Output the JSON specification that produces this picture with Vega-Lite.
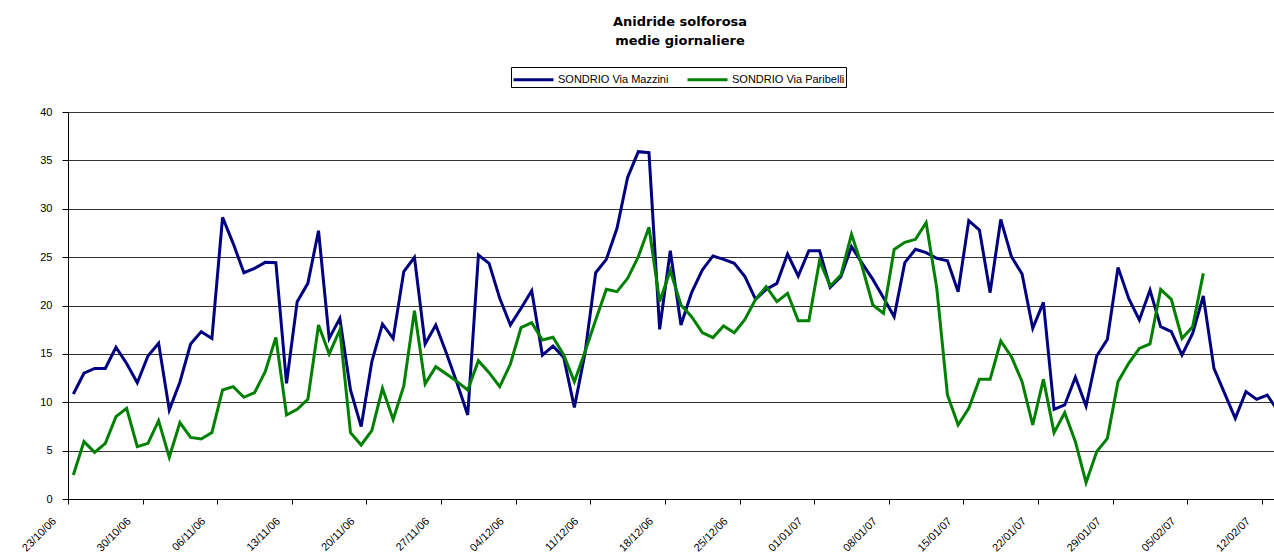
{
  "$schema": "https://vega.github.io/schema/vega-lite/v6.json",
  "width": 1206,
  "height": 387,
  "autosize": {"type": "none"},
  "padding": {"left": 68, "top": 112, "right": 0, "bottom": 58},
  "background": "white",
  "config": {"view": {"stroke": null}, "font": "Liberation Sans"},
  "title": {
    "text": ["Anidride solforosa", "medie giornaliere"],
    "font": "DejaVu Sans",
    "fontSize": 13,
    "fontWeight": "bold",
    "color": "black",
    "anchor": "middle",
    "dx": 9,
    "offset": 19,
    "lineHeight": 19
  },
  "data": {
    "values": [
      {"data": "2006-10-23", "SONDRIO Via Mazzini": 10.85, "SONDRIO Via Paribelli": 2.48},
      {"data": "2006-10-24", "SONDRIO Via Mazzini": 13.0, "SONDRIO Via Paribelli": 5.93},
      {"data": "2006-10-25", "SONDRIO Via Mazzini": 13.5, "SONDRIO Via Paribelli": 4.82},
      {"data": "2006-10-26", "SONDRIO Via Mazzini": 13.5, "SONDRIO Via Paribelli": 5.75},
      {"data": "2006-10-27", "SONDRIO Via Mazzini": 15.68, "SONDRIO Via Paribelli": 8.51},
      {"data": "2006-10-28", "SONDRIO Via Mazzini": 14.0, "SONDRIO Via Paribelli": 9.37},
      {"data": "2006-10-29", "SONDRIO Via Mazzini": 12.02, "SONDRIO Via Paribelli": 5.41},
      {"data": "2006-10-30", "SONDRIO Via Mazzini": 14.78, "SONDRIO Via Paribelli": 5.75},
      {"data": "2006-10-31", "SONDRIO Via Mazzini": 16.09, "SONDRIO Via Paribelli": 8.1},
      {"data": "2006-11-01", "SONDRIO Via Mazzini": 9.2, "SONDRIO Via Paribelli": 4.31},
      {"data": "2006-11-02", "SONDRIO Via Mazzini": 12.1, "SONDRIO Via Paribelli": 7.89},
      {"data": "2006-11-03", "SONDRIO Via Mazzini": 16.02, "SONDRIO Via Paribelli": 6.37},
      {"data": "2006-11-04", "SONDRIO Via Mazzini": 17.3, "SONDRIO Via Paribelli": 6.2},
      {"data": "2006-11-05", "SONDRIO Via Mazzini": 16.6, "SONDRIO Via Paribelli": 6.86},
      {"data": "2006-11-06", "SONDRIO Via Mazzini": 29.11, "SONDRIO Via Paribelli": 11.27},
      {"data": "2006-11-07", "SONDRIO Via Mazzini": 26.4, "SONDRIO Via Paribelli": 11.61},
      {"data": "2006-11-08", "SONDRIO Via Mazzini": 23.39, "SONDRIO Via Paribelli": 10.51},
      {"data": "2006-11-09", "SONDRIO Via Mazzini": 23.84, "SONDRIO Via Paribelli": 10.99},
      {"data": "2006-11-10", "SONDRIO Via Mazzini": 24.46, "SONDRIO Via Paribelli": 13.16},
      {"data": "2006-11-11", "SONDRIO Via Mazzini": 24.43, "SONDRIO Via Paribelli": 16.71},
      {"data": "2006-11-12", "SONDRIO Via Mazzini": 11.96, "SONDRIO Via Paribelli": 8.68},
      {"data": "2006-11-13", "SONDRIO Via Mazzini": 20.4, "SONDRIO Via Paribelli": 9.27},
      {"data": "2006-11-14", "SONDRIO Via Mazzini": 22.29, "SONDRIO Via Paribelli": 10.3},
      {"data": "2006-11-15", "SONDRIO Via Mazzini": 27.73, "SONDRIO Via Paribelli": 17.98},
      {"data": "2006-11-16", "SONDRIO Via Mazzini": 16.6, "SONDRIO Via Paribelli": 14.99},
      {"data": "2006-11-17", "SONDRIO Via Mazzini": 18.67, "SONDRIO Via Paribelli": 17.47},
      {"data": "2006-11-18", "SONDRIO Via Mazzini": 11.27, "SONDRIO Via Paribelli": 6.86},
      {"data": "2006-11-19", "SONDRIO Via Mazzini": 7.48, "SONDRIO Via Paribelli": 5.58},
      {"data": "2006-11-20", "SONDRIO Via Mazzini": 14.19, "SONDRIO Via Paribelli": 7.06},
      {"data": "2006-11-21", "SONDRIO Via Mazzini": 18.09, "SONDRIO Via Paribelli": 11.44},
      {"data": "2006-11-22", "SONDRIO Via Mazzini": 16.6, "SONDRIO Via Paribelli": 8.23},
      {"data": "2006-11-23", "SONDRIO Via Mazzini": 23.5, "SONDRIO Via Paribelli": 11.68},
      {"data": "2006-11-24", "SONDRIO Via Mazzini": 24.98, "SONDRIO Via Paribelli": 19.47},
      {"data": "2006-11-25", "SONDRIO Via Mazzini": 16.02, "SONDRIO Via Paribelli": 11.89},
      {"data": "2006-11-26", "SONDRIO Via Mazzini": 17.98, "SONDRIO Via Paribelli": 13.68},
      {"data": "2006-11-27", "SONDRIO Via Mazzini": 15.06, "SONDRIO Via Paribelli": 12.92},
      {"data": "2006-11-28", "SONDRIO Via Mazzini": 11.96, "SONDRIO Via Paribelli": 12.13},
      {"data": "2006-11-29", "SONDRIO Via Mazzini": 8.68, "SONDRIO Via Paribelli": 11.27},
      {"data": "2006-11-30", "SONDRIO Via Mazzini": 25.22, "SONDRIO Via Paribelli": 14.3},
      {"data": "2006-12-01", "SONDRIO Via Mazzini": 24.36, "SONDRIO Via Paribelli": 13.06},
      {"data": "2006-12-02", "SONDRIO Via Mazzini": 20.74, "SONDRIO Via Paribelli": 11.61},
      {"data": "2006-12-03", "SONDRIO Via Mazzini": 17.98, "SONDRIO Via Paribelli": 13.95},
      {"data": "2006-12-04", "SONDRIO Via Mazzini": 19.71, "SONDRIO Via Paribelli": 17.71},
      {"data": "2006-12-05", "SONDRIO Via Mazzini": 21.53, "SONDRIO Via Paribelli": 18.23},
      {"data": "2006-12-06", "SONDRIO Via Mazzini": 14.88, "SONDRIO Via Paribelli": 16.43},
      {"data": "2006-12-07", "SONDRIO Via Mazzini": 15.81, "SONDRIO Via Paribelli": 16.71},
      {"data": "2006-12-08", "SONDRIO Via Mazzini": 14.64, "SONDRIO Via Paribelli": 14.88},
      {"data": "2006-12-09", "SONDRIO Via Mazzini": 9.47, "SONDRIO Via Paribelli": 12.13},
      {"data": "2006-12-10", "SONDRIO Via Mazzini": 15.06, "SONDRIO Via Paribelli": 15.23},
      {"data": "2006-12-11", "SONDRIO Via Mazzini": 23.39, "SONDRIO Via Paribelli": 18.5},
      {"data": "2006-12-12", "SONDRIO Via Mazzini": 24.77, "SONDRIO Via Paribelli": 21.67},
      {"data": "2006-12-13", "SONDRIO Via Mazzini": 27.98, "SONDRIO Via Paribelli": 21.43},
      {"data": "2006-12-14", "SONDRIO Via Mazzini": 33.25, "SONDRIO Via Paribelli": 22.81},
      {"data": "2006-12-15", "SONDRIO Via Mazzini": 35.9, "SONDRIO Via Paribelli": 25.05},
      {"data": "2006-12-16", "SONDRIO Via Mazzini": 35.8, "SONDRIO Via Paribelli": 28.08},
      {"data": "2006-12-17", "SONDRIO Via Mazzini": 17.54, "SONDRIO Via Paribelli": 20.4},
      {"data": "2006-12-18", "SONDRIO Via Mazzini": 25.67, "SONDRIO Via Paribelli": 23.6},
      {"data": "2006-12-19", "SONDRIO Via Mazzini": 17.98, "SONDRIO Via Paribelli": 20.05},
      {"data": "2006-12-20", "SONDRIO Via Mazzini": 21.33, "SONDRIO Via Paribelli": 18.85},
      {"data": "2006-12-21", "SONDRIO Via Mazzini": 23.67, "SONDRIO Via Paribelli": 17.19},
      {"data": "2006-12-22", "SONDRIO Via Mazzini": 25.12, "SONDRIO Via Paribelli": 16.68},
      {"data": "2006-12-23", "SONDRIO Via Mazzini": 24.77, "SONDRIO Via Paribelli": 17.88},
      {"data": "2006-12-24", "SONDRIO Via Mazzini": 24.36, "SONDRIO Via Paribelli": 17.19},
      {"data": "2006-12-25", "SONDRIO Via Mazzini": 22.98, "SONDRIO Via Paribelli": 18.57},
      {"data": "2006-12-26", "SONDRIO Via Mazzini": 20.64, "SONDRIO Via Paribelli": 20.64},
      {"data": "2006-12-27", "SONDRIO Via Mazzini": 21.67, "SONDRIO Via Paribelli": 21.95},
      {"data": "2006-12-28", "SONDRIO Via Mazzini": 22.29, "SONDRIO Via Paribelli": 20.4},
      {"data": "2006-12-29", "SONDRIO Via Mazzini": 25.32, "SONDRIO Via Paribelli": 21.26},
      {"data": "2006-12-30", "SONDRIO Via Mazzini": 23.05, "SONDRIO Via Paribelli": 18.43},
      {"data": "2006-12-31", "SONDRIO Via Mazzini": 25.67, "SONDRIO Via Paribelli": 18.43},
      {"data": "2007-01-01", "SONDRIO Via Mazzini": 25.67, "SONDRIO Via Paribelli": 24.63},
      {"data": "2007-01-02", "SONDRIO Via Mazzini": 21.88, "SONDRIO Via Paribelli": 22.02},
      {"data": "2007-01-03", "SONDRIO Via Mazzini": 22.98, "SONDRIO Via Paribelli": 23.15},
      {"data": "2007-01-04", "SONDRIO Via Mazzini": 26.08, "SONDRIO Via Paribelli": 27.36},
      {"data": "2007-01-05", "SONDRIO Via Mazzini": 24.36, "SONDRIO Via Paribelli": 24.0},
      {"data": "2007-01-06", "SONDRIO Via Mazzini": 22.7, "SONDRIO Via Paribelli": 20.05},
      {"data": "2007-01-07", "SONDRIO Via Mazzini": 20.8, "SONDRIO Via Paribelli": 19.19},
      {"data": "2007-01-08", "SONDRIO Via Mazzini": 18.85, "SONDRIO Via Paribelli": 25.8},
      {"data": "2007-01-09", "SONDRIO Via Mazzini": 24.43, "SONDRIO Via Paribelli": 26.53},
      {"data": "2007-01-10", "SONDRIO Via Mazzini": 25.81, "SONDRIO Via Paribelli": 26.84},
      {"data": "2007-01-11", "SONDRIO Via Mazzini": 25.46, "SONDRIO Via Paribelli": 28.56},
      {"data": "2007-01-12", "SONDRIO Via Mazzini": 24.87, "SONDRIO Via Paribelli": 21.77},
      {"data": "2007-01-13", "SONDRIO Via Mazzini": 24.63, "SONDRIO Via Paribelli": 10.75},
      {"data": "2007-01-14", "SONDRIO Via Mazzini": 21.43, "SONDRIO Via Paribelli": 7.65},
      {"data": "2007-01-15", "SONDRIO Via Mazzini": 28.77, "SONDRIO Via Paribelli": 9.37},
      {"data": "2007-01-16", "SONDRIO Via Mazzini": 27.8, "SONDRIO Via Paribelli": 12.37},
      {"data": "2007-01-17", "SONDRIO Via Mazzini": 21.33, "SONDRIO Via Paribelli": 12.37},
      {"data": "2007-01-18", "SONDRIO Via Mazzini": 28.9, "SONDRIO Via Paribelli": 16.33},
      {"data": "2007-01-19", "SONDRIO Via Mazzini": 25.05, "SONDRIO Via Paribelli": 14.71},
      {"data": "2007-01-20", "SONDRIO Via Mazzini": 23.26, "SONDRIO Via Paribelli": 12.13},
      {"data": "2007-01-21", "SONDRIO Via Mazzini": 17.64, "SONDRIO Via Paribelli": 7.65},
      {"data": "2007-01-22", "SONDRIO Via Mazzini": 20.33, "SONDRIO Via Paribelli": 12.37},
      {"data": "2007-01-23", "SONDRIO Via Mazzini": 9.27, "SONDRIO Via Paribelli": 6.86},
      {"data": "2007-01-24", "SONDRIO Via Mazzini": 9.72, "SONDRIO Via Paribelli": 8.92},
      {"data": "2007-01-25", "SONDRIO Via Mazzini": 12.58, "SONDRIO Via Paribelli": 5.93},
      {"data": "2007-01-26", "SONDRIO Via Mazzini": 9.61, "SONDRIO Via Paribelli": 1.69},
      {"data": "2007-01-27", "SONDRIO Via Mazzini": 14.78, "SONDRIO Via Paribelli": 4.89},
      {"data": "2007-01-28", "SONDRIO Via Mazzini": 16.5, "SONDRIO Via Paribelli": 6.27},
      {"data": "2007-01-29", "SONDRIO Via Mazzini": 23.94, "SONDRIO Via Paribelli": 12.13},
      {"data": "2007-01-30", "SONDRIO Via Mazzini": 20.74, "SONDRIO Via Paribelli": 14.02},
      {"data": "2007-01-31", "SONDRIO Via Mazzini": 18.5, "SONDRIO Via Paribelli": 15.57},
      {"data": "2007-02-01", "SONDRIO Via Mazzini": 21.6, "SONDRIO Via Paribelli": 16.02},
      {"data": "2007-02-02", "SONDRIO Via Mazzini": 17.81, "SONDRIO Via Paribelli": 21.67},
      {"data": "2007-02-03", "SONDRIO Via Mazzini": 17.3, "SONDRIO Via Paribelli": 20.64},
      {"data": "2007-02-04", "SONDRIO Via Mazzini": 14.88, "SONDRIO Via Paribelli": 16.6},
      {"data": "2007-02-05", "SONDRIO Via Mazzini": 17.12, "SONDRIO Via Paribelli": 17.81},
      {"data": "2007-02-06", "SONDRIO Via Mazzini": 20.98, "SONDRIO Via Paribelli": 23.32},
      {"data": "2007-02-07", "SONDRIO Via Mazzini": 13.5},
      {"data": "2007-02-08", "SONDRIO Via Mazzini": 10.92},
      {"data": "2007-02-09", "SONDRIO Via Mazzini": 8.34},
      {"data": "2007-02-10", "SONDRIO Via Mazzini": 11.1},
      {"data": "2007-02-11", "SONDRIO Via Mazzini": 10.3},
      {"data": "2007-02-12", "SONDRIO Via Mazzini": 10.75},
      {"data": "2007-02-13", "SONDRIO Via Mazzini": 9.1}
    ]
  },
  "transform": [
    {"fold": ["SONDRIO Via Mazzini", "SONDRIO Via Paribelli"], "as": ["serie", "valore"]}
  ],
  "mark": {"type": "line", "strokeWidth": 3, "clip": true},
  "encoding": {
    "x": {
      "field": "data",
      "type": "temporal",
      "scale": {
        "type": "utc",
        "domain": [
          {"year": 2006, "month": 10, "date": 22, "hours": 12, "utc": true},
          {"year": 2007, "month": 2, "date": 12, "hours": 15, "minutes": 10, "utc": true}
        ]
      },
      "axis": {
        "title": null,
        "grid": false,
        "values": [
          {"year": 2006, "month": 10, "date": 22, "hours": 12, "utc": true},
          {"year": 2006, "month": 10, "date": 29, "hours": 12, "utc": true},
          {"year": 2006, "month": 11, "date": 5, "hours": 12, "utc": true},
          {"year": 2006, "month": 11, "date": 12, "hours": 12, "utc": true},
          {"year": 2006, "month": 11, "date": 19, "hours": 12, "utc": true},
          {"year": 2006, "month": 11, "date": 26, "hours": 12, "utc": true},
          {"year": 2006, "month": 12, "date": 3, "hours": 12, "utc": true},
          {"year": 2006, "month": 12, "date": 10, "hours": 12, "utc": true},
          {"year": 2006, "month": 12, "date": 17, "hours": 12, "utc": true},
          {"year": 2006, "month": 12, "date": 24, "hours": 12, "utc": true},
          {"year": 2006, "month": 12, "date": 31, "hours": 12, "utc": true},
          {"year": 2007, "month": 1, "date": 7, "hours": 12, "utc": true},
          {"year": 2007, "month": 1, "date": 14, "hours": 12, "utc": true},
          {"year": 2007, "month": 1, "date": 21, "hours": 12, "utc": true},
          {"year": 2007, "month": 1, "date": 28, "hours": 12, "utc": true},
          {"year": 2007, "month": 2, "date": 4, "hours": 12, "utc": true},
          {"year": 2007, "month": 2, "date": 11, "hours": 12, "utc": true}
        ],
        "labelExpr": "utcFormat(datum.value + 43200000, '%d/%m/%y')",
        "labelAngle": -45,
        "labelAlign": "right",
        "labelBaseline": "top",
        "labelOffset": -18,
        "labelPadding": 11,
        "labelFontSize": 11,
        "labelColor": "black",
        "labelOverlap": false,
        "labelFlush": false,
        "labelBound": false,
        "tickSize": 5,
        "tickColor": "black",
        "domainColor": "black"
      }
    },
    "y": {
      "field": "valore",
      "type": "quantitative",
      "scale": {"domain": [0, 40], "nice": false},
      "axis": {
        "title": null,
        "values": [0, 5, 10, 15, 20, 25, 30, 35, 40],
        "grid": true,
        "gridColor": "#333333",
        "gridOpacity": 1,
        "gridWidth": 1,
        "tickSize": 6,
        "tickColor": "black",
        "domainColor": "black",
        "labelPadding": 10,
        "labelFontSize": 11,
        "labelColor": "black"
      }
    },
    "color": {
      "field": "serie",
      "type": "nominal",
      "scale": {
        "domain": ["SONDRIO Via Mazzini", "SONDRIO Via Paribelli"],
        "range": ["#000080", "#008000"]
      },
      "legend": {
        "title": null,
        "orient": "none",
        "direction": "horizontal",
        "legendX": 443,
        "legendY": -45,
        "strokeColor": "black",
        "fillColor": "white",
        "padding": 1,
        "cornerRadius": 0,
        "symbolType": "M-2,0H2",
        "symbolSize": 400,
        "symbolOffset": 10,
        "symbolStrokeWidth": 3,
        "labelFontSize": 11,
        "labelColor": "black",
        "labelOffset": 13,
        "columnPadding": 12,
        "labelLimit": 300
      }
    }
  }
}
